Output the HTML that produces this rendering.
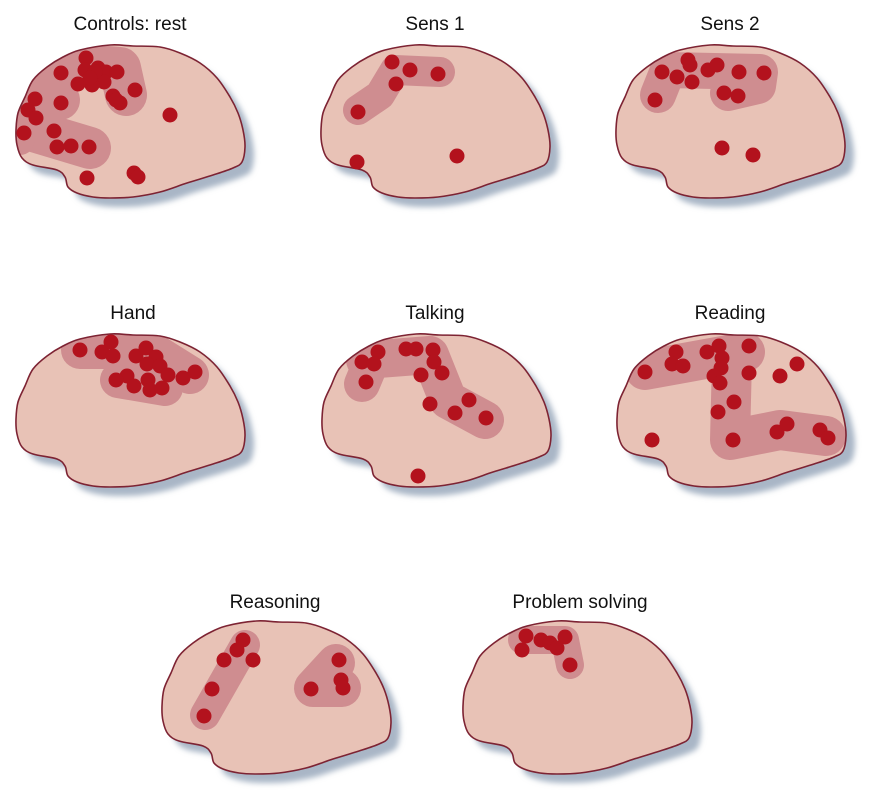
<!DOCTYPE html>
<html><head><meta charset="utf-8"><style>
html,body{margin:0;padding:0;background:#fff;}
svg{display:block;}
text{font-family:"Liberation Sans",sans-serif;font-size:19px;fill:#111;text-anchor:middle;}
</style></head><body>
<svg id="fig" width="873" height="796" viewBox="0 0 873 796" xmlns="http://www.w3.org/2000/svg">
<defs>
<filter id="blur" x="-10%" y="-10%" width="130%" height="130%"><feGaussianBlur stdDeviation="3"/></filter>
</defs>
</svg>
<script>
const titles=["Controls: rest","Sens 1","Sens 2","Hand","Talking","Reading","Reasoning","Problem solving"];
const originsX=[16,321,616,16,322,617,162,463];
const originsY=[44,44,44,333,333,333,620,620];
const titleX=[130,435,730,133,435,730,275,580];
const titleY=[30,30,30,319,319,319,608,608];
const dots0=[[86,58],[85,70],[98,68],[106,72],[117,72],[104,82],[92,85],[78,84],[61,73],[35,99],[28,110],[36,118],[61,103],[24,133],[54,131],[57,147],[71,146],[89,147],[87,178],[134,173],[138,177],[135,90],[113,96],[120,103],[116,100],[170,115],[95,72],[90,78]];
const dots1=[[392,62],[410,70],[438,74],[396,84],[358,112],[357,162],[457,156]];
const dots2=[[662,72],[688,60],[690,65],[677,77],[692,82],[708,70],[717,65],[739,72],[764,73],[724,93],[738,96],[655,100],[722,148],[753,155]];
const dots3=[[80,350],[102,352],[111,342],[113,356],[136,356],[146,348],[156,357],[147,364],[160,366],[127,376],[116,380],[134,386],[148,380],[150,390],[162,388],[183,378],[195,372],[168,375]];
const dots4=[[378,352],[406,349],[416,349],[433,350],[362,362],[374,364],[434,362],[421,375],[442,373],[366,382],[430,404],[455,413],[469,400],[486,418],[418,476]];
const dots5=[[676,352],[672,364],[683,366],[707,352],[719,346],[722,358],[721,368],[714,376],[720,383],[749,346],[749,373],[734,402],[718,412],[733,440],[780,376],[797,364],[652,440],[777,432],[787,424],[820,430],[828,438],[645,372]];
const dots6=[[243,640],[237,650],[224,660],[253,660],[212,689],[204,716],[339,660],[311,689],[341,680],[343,688]];
const dots7=[[526,636],[541,640],[550,643],[565,637],[557,648],[522,650],[570,665]];
const allDots=[dots0,dots1,dots2,dots3,dots4,dots5,dots6,dots7];
const regions=[
 [[[50,62],[120,68],[126,95]],[[30,65],[30,130],[90,148]],[[40,60],[60,100]],[[20,90],[20,140]]],
 [[[358,110],[380,95],[395,70],[440,72]]],
 [[[658,95],[668,70],[760,72],[758,86],[728,93]]],
 [[[80,350],[150,350],[190,375]],[[118,380],[165,388]]],
 [[[365,360],[430,355],[448,400],[485,420]],[[362,384],[372,360]]],
 [[[645,370],[700,360],[745,352]],[[732,360],[730,440],[780,430],[826,436]]],
 [[[245,645],[205,715]],[[336,663],[313,688],[342,688]]],
 [[[522,640],[565,640],[570,665]]]
];
const regionW=[[42,42,40,30],[30],[36],[38,36],[38,36],[40,40],[30,38],[28]];
const outline=[[2,69],[9,53],[17,36],[31,23],[47,13],[64,6],[94,1],[117,2],[144,3],[164,9],[184,19],[201,34],[214,53],[222,69],[227,86],[229,103],[226,118],[217,124],[197,131],[171,139],[144,148],[117,153],[94,154],[77,153],[61,149],[52,143],[49,133],[41,126],[17,121],[6,114],[1,101],[0,86]];
function smooth(p){
 const n=p.length;let d=`M${p[0][0]},${p[0][1]}`;
 for(let i=0;i<n;i++){const p0=p[(i-1+n)%n],p1=p[i],p2=p[(i+1)%n],p3=p[(i+2)%n];
  const c1=[p1[0]+(p2[0]-p0[0])/6,p1[1]+(p2[1]-p0[1])/6],c2=[p2[0]-(p3[0]-p1[0])/6,p2[1]-(p3[1]-p1[1])/6];
  d+=`C${c1[0].toFixed(1)},${c1[1].toFixed(1)} ${c2[0].toFixed(1)},${c2[1].toFixed(1)} ${p2[0]},${p2[1]}`;}
 return d+'Z';}
const NS="http://www.w3.org/2000/svg",svg=document.getElementById('fig'),defs=svg.querySelector('defs');
const brainD=smooth(outline);
function mk(t,a,parent){const e=document.createElementNS(NS,t);for(const k in a)e.setAttribute(k,a[k]);parent.appendChild(e);return e;}
titles.forEach((t,i)=>{
 const ox=originsX[i],oy=originsY[i];
 const g=mk('g',{},svg);
 
 
 const tx=mk('text',{x:titleX[i],y:titleY[i]},g);tx.textContent=t;
 
 
 const cp=mk('clipPath',{id:'cp'+i},defs);
 mk('path',{d:brainD,transform:`translate(${ox},${oy})`},cp);
 const sh=mk('path',{d:brainD,transform:`translate(${ox+9},${oy+9})`,fill:'#a9b6c6',filter:'url(#blur)'},g);
 
 
 const br=mk('path',{d:brainD,transform:`translate(${ox},${oy})`,fill:'#e8c2b6'},g);
 
 
 const hg=mk('g',{'clip-path':`url(#cp${i})`},g);
 regions[i].forEach((r,j)=>{
  const pl=mk('polyline',{points:r.map(p=>p.join(',')).join(' '),fill:'none',stroke:'#cf8d90','stroke-width':regionW[i][j],'stroke-linecap':'round','stroke-linejoin':'round'},hg);
  
  
 });
 mk('path',{d:brainD,transform:`translate(${ox},${oy})`,fill:'none',stroke:'#7d2333','stroke-width':1.6},g);
 allDots[i].forEach(p=>{
  const c=mk('circle',{cx:p[0],cy:p[1],r:7.5,fill:'#b3121d'},g);
  
  
 });
});
</script>
</body></html>
